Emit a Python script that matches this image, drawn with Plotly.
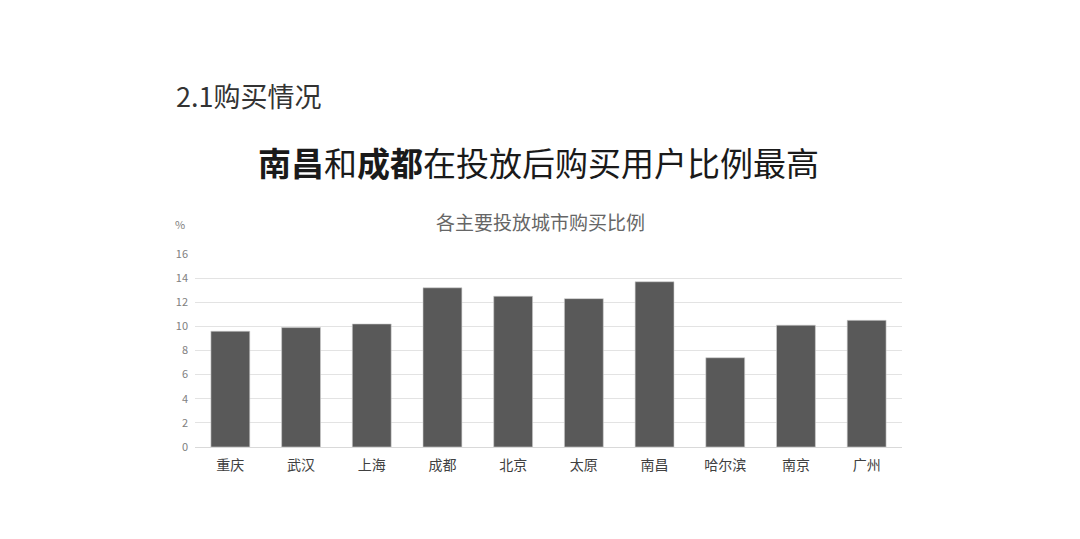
import plotly.graph_objects as go

cities = ["重庆", "武汉", "上海", "成都", "北京", "太原", "南昌", "哈尔滨", "南京", "广州"]
rates = [9.6, 9.9, 10.2, 13.2, 12.5, 12.3, 13.7, 7.4, 10.1, 10.5]
y_ticks = [0, 2, 4, 6, 8, 10, 12, 14, 16]

FONT = "Noto Sans CJK SC"
OFF = 8  # page body margin

fig = go.Figure(go.Bar(
    x=cities, y=rates,
    marker=dict(color="#595959", line=dict(color="#d0d0d0", width=0.6)),
))

W, H = 1080, 539
L, R, T, B = 195 - OFF, W - (902 - OFF), 254 - OFF, H - (447 - OFF)
pw, ph = W - L - R, H - T - B

def px(x):
    return (x - OFF - L) / pw

def py(y):
    return (H - B - (y - OFF)) / ph

fig.update_layout(
    width=W, height=H,
    margin=dict(l=L, r=R, t=T, b=B),
    paper_bgcolor="white", plot_bgcolor="white",
    bargap=0.45,
    showlegend=False,
    font=dict(family=FONT),
    xaxis=dict(showgrid=False, showline=True, linecolor="#d9d9d9", linewidth=1,
               ticks="", tickfont=dict(size=14, color="#404040", family=FONT),
               ticklabelstandoff=5),
    yaxis=dict(range=[0, 16], tickvals=y_ticks, showgrid=True, gridcolor="#e3e3e3",
               gridwidth=1, zeroline=False, showline=False, ticks="",
               tickfont=dict(size=11, color="#808080", family=FONT), ticklabelstandoff=6),
    annotations=[
        dict(text="2.1购买情况", x=px(174), y=py(95), xref="paper", yref="paper",
             xanchor="left", yanchor="middle", showarrow=False,
             font=dict(size=27, color="#333333", family=FONT)),
        dict(text="<b>南昌</b>和<b>成都</b>在投放后购买用户比例最高", x=px(538), y=py(162),
             xref="paper", yref="paper", xanchor="center", yanchor="middle", showarrow=False,
             font=dict(size=33, color="#1a1a1a", family=FONT)),
        dict(text="各主要投放城市购买比例", x=px(540), y=py(221), xref="paper", yref="paper",
             xanchor="center", yanchor="middle", showarrow=False,
             font=dict(size=19, color="#666666", family=FONT)),
        dict(text="%", x=px(180), y=py(224), xref="paper", yref="paper",
             xanchor="center", yanchor="middle", showarrow=False,
             font=dict(size=11, color="#808080", family=FONT)),
    ],
)

fig.write_html("out.html")
